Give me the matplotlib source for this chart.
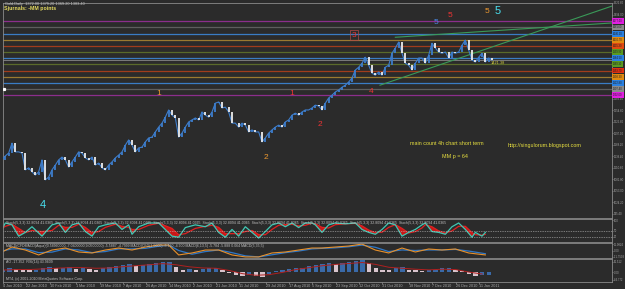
import matplotlib
matplotlib.use('Agg')
import matplotlib.pyplot as plt
import matplotlib.transforms as mtransforms
import numpy as np

plt.rcParams['font.family'] = ['Liberation Sans', 'DejaVu Sans']

# ---- Gold daily closes (one value per ~2 bars) ----
closes = [1130, 1140, 1147, 1172, 1150, 1150, 1147, 1105, 1110, 1100,
          1092, 1100, 1130, 1080, 1087, 1105, 1117, 1130, 1137, 1130,
          1112, 1125, 1137, 1150, 1147, 1135, 1130, 1137, 1117, 1122,
          1110, 1105, 1117, 1125, 1135, 1142, 1150, 1167, 1180, 1167,
          1150, 1160, 1162, 1175, 1185, 1187, 1200, 1212, 1222, 1237,
          1255, 1242, 1235, 1187, 1197, 1212, 1225, 1230, 1235, 1230,
          1250, 1242, 1237, 1250, 1272, 1275, 1260, 1262, 1250, 1222,
          1222, 1212, 1222, 1217, 1200, 1205, 1200, 1200, 1175, 1185,
          1197, 1205, 1212, 1217, 1212, 1225, 1230, 1242, 1247, 1242,
          1250, 1255, 1255, 1260, 1267, 1265, 1255, 1272, 1285, 1292,
          1300, 1305, 1312, 1317, 1325, 1335, 1355, 1362, 1372, 1387,
          1367, 1347, 1342, 1350, 1342, 1362, 1367, 1397, 1410, 1425,
          1397, 1372, 1367, 1355, 1372, 1385, 1385, 1372, 1392, 1422,
          1410, 1400, 1397, 1400, 1385, 1400, 1397, 1400, 1417, 1430,
          1405, 1380, 1375, 1387, 1397, 1375, 1385, 1380]

# Murrey math levels (MM p = 64), top to bottom
mm_levels = [1477.0, 1461.6, 1446.2, 1430.7, 1415.3, 1399.9, 1384.5,
             1369.1, 1353.7, 1338.3, 1322.8, 1307.4, 1292.0]

price_ticks = [1522.80, 1494.00, 1283.40, 1254.60, 1225.80, 1197.00,
               1168.20, 1139.40, 1110.60, 1081.80, 1053.00, 1024.20, 995.40]

date_pos = [0, 7, 14, 22, 29, 36, 43, 50, 57, 64, 71, 79, 86, 93, 100,
            107, 114, 122, 129, 136, 143]
date_labels = ['4 Jan 2010', '22 Jan 2010', '10 Feb 2010', '1 Mar 2010',
               '19 Mar 2010', '7 Apr 2010', '26 Apr 2010', '14 May 2010',
               '2 Jun 2010', '21 Jun 2010', '11 Jul 2010', '29 Jul 2010',
               '17 Aug 2010', '5 Sep 2010', '23 Sep 2010', '12 Oct 2010',
               '31 Oct 2010', '18 Nov 2010', '7 Dec 2010', '26 Dec 2010',
               '11 Jan 2011']

# trend lines (x in bar units, price)
trend_upper = ([118, 183.3], [1437, 1473])
trend_lower = ([113.4, 183.3], [1317, 1516])

# wave counts: (label, x, price, colour key, size key)
waves = [('1', 47.1, 1297, 'orange', 's'), ('1', 87, 1297, 'red', 's'),
         ('2', 95.4, 1219, 'red', 's'), ('2', 79.2, 1137, 'orange', 's'),
         ('3', 105.6, 1442, 'red', 'box'), ('4', 110.7, 1302, 'red', 's'),
         ('4', 12.3, 1017, 'cyan', 'l'), ('5', 130.2, 1474, 'blue', 's'),
         ('5', 134.4, 1492, 'red', 's'), ('5', 145.5, 1502, 'orange', 's'),
         ('5', 148.8, 1504, 'cyan', 'l')]

# ---- stochastic panel ----
stoch_x = [0, 1, 3, 5, 7, 9, 12, 15, 17, 19, 21, 23, 25, 27, 29, 31, 34, 36,
           38, 39, 41, 44, 47, 51, 53, 55, 58, 61, 63, 65, 67, 69, 71, 73,
           75, 77, 79, 81, 83, 85, 87, 89, 91, 93, 94, 96, 98, 100, 103, 106,
           108, 110, 112, 114, 116, 118, 120, 122, 124, 126, 127, 129, 131,
           133, 135, 137, 139, 141, 142, 144, 145]
stoch_k = [55, 86, 77, 23, 41, 68, 23, 77, 86, 41, 77, 86, 45, 23, 68, 77,
           86, 55, 77, 32, 68, 86, 86, 23, 18, 64, 77, 68, 86, 41, 18, 55,
           23, 68, 41, 14, 45, 77, 86, 68, 86, 64, 86, 86, 77, 41, 77, 86,
           82, 86, 55, 41, 32, 55, 86, 77, 23, 41, 55, 77, 86, 45, 41, 32,
           68, 86, 55, 18, 41, 23, 41]
stoch_d = [60, 70, 80, 60, 40, 50, 45, 50, 75, 65, 65, 80, 65, 40, 45, 65,
           80, 70, 65, 55, 55, 75, 85, 60, 30, 35, 60, 70, 75, 65, 35, 35,
           35, 45, 50, 30, 30, 55, 75, 78, 80, 72, 75, 85, 82, 65, 62, 78,
           82, 84, 72, 52, 40, 42, 65, 78, 60, 38, 45, 62, 78, 68, 48, 38,
           48, 70, 70, 40, 30, 28, 32]

# ---- MACD panel ----
macd_x = [0, 3, 7, 11, 15, 19, 23, 27, 31, 35, 39, 43, 47, 50, 53, 57, 61,
          65, 69, 73, 77, 81, 85, 89, 93, 96, 100, 104, 108, 112, 116, 120,
          124, 128, 132, 136, 140, 145]
macd_fast = [-2.8, 6.5, 0.9, -8.3, 0.9, 4.6, -2.8, -4.6, 0.9, 4.6, 0.9, 6.5,
             10.2, 10.2, -8.3, -4.6, 0.9, 0.9, -8.3, -12, -12, -4.6, -2.8,
             0.9, 4.6, 4.6, 6.5, 8.3, 12, 0.9, -4.6, 4.6, -2.8, 2.8, 0.9,
             2.8, -4.6, -8.3]
macd_slow = [-1, 3, 3, -4, -3, 3, 1, -4, -2, 3, 3, 4, 8, 10, 0, -7, -2, 1,
             -4, -10, -12, -8, -4, -1, 3, 4, 5, 7, 10, 6, -2, 1, 0, 1, 1, 2,
             -1, -6]

# ---- oscillator histogram panel ----
hist_vals = [12, 30, 24, 18, 12, 18, 30, 36, 30, 30, 36, 24, 30, 24, 18, 30,
             36, 42, 48, 54, 42, 48, 54, 60, 66, 66, 36, 18, 24, 18, 24, 30,
             30, 12, -6, -18, -24, -18, -24, -30, -12, 6, 12, 24, 30, 30, 42,
             48, 54, 60, 54, 60, 66, 72, 78, 60, 30, 18, 12, 30, 36, 18, 12,
             6, 12, 18, 30, 30, 18, 6, -12, -24, -18, -18]
signal_vals = [15, 18, 18, 22, 26, 30, 30, 26, 28, 36, 42, 48, 55, 48, 35,
               28, 26, 12, -8, -18, -14, 0, 18, 30, 42, 50, 56, 62, 50, 32,
               26, 20, 16, 20, 18, 2, -10]

BG = '#2b2b2b'
FRAME = '#8a8a8a'
TXT = '#a8a8a8'
mm_line_cols = ['#8c2e8c', '#5e5e5e', '#3a7cc4', '#9a7a30', '#a03c1c',
                '#5a6a2a', '#3a7cc4', '#5a6a2a', '#a03c1c', '#9a7a30',
                '#3a7cc4', '#5e5e5e', '#8c2e8c']
mm_box_cols = ['#e020e0', '#8a8a8a', '#2a80e0', '#e08a10', '#e04a10',
               '#5a9a20', '#2a80e0', '#5a9a20', '#e03010', '#e08a10',
               '#2a80e0', '#8a8a8a', '#e020e0']
wave_cols = {'orange': '#f09a30', 'red': '#f03434', 'cyan': '#48e0f0',
             'blue': '#4a8ae8'}

fig = plt.figure(figsize=(6.25, 2.89), dpi=100, facecolor=BG)
W, H = 625.0, 289.0
def add_panel(top, bottom):
    return fig.add_axes([3 / W, 1 - bottom / H, 609 / W, (bottom - top) / H],
                        facecolor=BG)

ax = add_panel(3, 218)
ax1 = add_panel(219, 242)
ax2 = add_panel(243, 258)
ax3 = add_panel(259, 282)

for a in (ax, ax1, ax2, ax3):
    a.set_xlim(0.3, 183.0)
    for s in a.spines.values():
        s.set_color(FRAME)
        s.set_linewidth(0.6)
    a.yaxis.tick_right()
    a.tick_params(axis='y', labelsize=2.0, colors=TXT, length=0.8, width=0.4,
                  pad=0.3)
    a.tick_params(axis='x', bottom=False, labelbottom=False)

# ---- main price panel ----
ax.set_ylim(984.5, 1522)
ax.set_yticks(price_ticks)
ax.set_yticklabels(['%.2f' % v for v in price_ticks])

yb = mtransforms.blended_transform_factory(ax.transAxes, ax.transData)
for lvl, lc, bc in zip(mm_levels, mm_line_cols, mm_box_cols):
    ax.axhline(lvl, color=lc, lw=0.9, zorder=1)
    ax.text(1.002, lvl, '%.2f' % lvl, transform=yb, fontsize=1.9,
            color='#202020', va='center', ha='left', clip_on=False,
            bbox=dict(boxstyle='square,pad=0.35', fc=bc, ec='none'))
ax.axhline(closes[-1], color='#9a9a9a', lw=0.5, zorder=1)

ax.plot(trend_upper[0], trend_upper[1], color='#3a9a58', lw=0.8, zorder=2)
ax.plot(trend_lower[0], trend_lower[1], color='#3a9a58', lw=0.8, zorder=2)

c = np.array(closes, dtype=float)
o = np.r_[c[0] + 4, c[:-1]]
xs = np.arange(len(c))
up = c >= o
ax.plot(xs, c, color='#3d7dcc', lw=0.8, zorder=3)
ax.vlines(xs[up], o[up], c[up], color='#3d7dcc', lw=1.3, zorder=3)
ax.vlines(xs[~up], o[~up], c[~up], color='#ececec', lw=1.3, zorder=3)

for lab, wx, wy, ck, sk in waves:
    kw = dict(color=wave_cols[ck], ha='center', va='center', zorder=4)
    if sk == 'l':
        ax.text(wx, wy, lab, fontsize=8, **kw)
    elif sk == 'box':
        ax.text(wx, wy, lab, fontsize=6, bbox=dict(boxstyle='square,pad=0.2',
                fc='none', ec='#b04848', lw=0.5), **kw)
    else:
        ax.text(wx, wy, lab, fontsize=6, **kw)

ax.text(133.3, 1172, 'main count 4h chart short term', fontsize=3.9,
        color='#e8e040', ha='center', va='center')
ax.text(135.9, 1139, 'MM p = 64', fontsize=3.9, color='#e8e040',
        ha='center', va='center')
ax.text(162.7, 1167, 'http://singulorum.blogspot.com', fontsize=3.9,
        color='#e8e040', ha='center', va='center')
ax.text(146.5, 1372, '1421.38', fontsize=2.8, color='#d8d040', ha='left',
        va='center')
ax.plot([0.6], [1307.4], marker='s', ms=1.3, color='white', zorder=5)

fig.text(5 / W, 1 - 2.5 / H, 'Gold,Daily  1372.00 1379.20 1369.20 1383.40',
         fontsize=2.8, color='#c8c8c8', va='top')
fig.text(4 / W, 1 - 6 / H, 'Sjurnals: -MM points', fontsize=3.8,
         color='#e6dc60', va='top', weight='bold')

# ---- stochastic ----
ax1.set_ylim(-5, 105)
k = np.array(stoch_k, dtype=float)
d = np.array(stoch_d, dtype=float)
ax1.fill_between(stoch_x, k, d, where=d > k, interpolate=True,
                 color='#c81818', lw=0)
ax1.plot(stoch_x, d, color='#e02020', lw=0.9)
ax1.plot(stoch_x, k, color='#40c8b4', lw=0.9)
for lv in (50, 20):
    ax1.axhline(lv, color='#c8c8c8', lw=0.5, ls=(0, (1, 1.5)))
ax1.set_yticks([100, 50, 20])
ax1.set_yticklabels(['100', '50', '20'])
ax1.text(0.005, 0.93, 'Stoch(5,3,3) 32.8094 41.0365  ' * 9, transform=ax1.transAxes,
         fontsize=2.5, color='#c0c0c0', va='top', clip_on=True)

# ---- MACD ----
ax2.set_ylim(-14, 14)
ax2.plot(macd_x, macd_slow, color='#2f78c8', lw=0.9)
ax2.plot(macd_x, macd_fast, color='#e8902a', lw=0.8)
ax2.set_yticks([11.9824, 0, -11.7503])
ax2.set_yticklabels(['11.9824', '0.00', '-11.7503'])
ax2.text(0.005, 0.95, 'MACD(CFDMACD(Aqua)(0.58960000,-7.0400000,9.0500000) '
         '-5.5887 -4.7999 MACD(CFD(1.0000) -5.190 -4.900 MACD(6,13,5) '
         '-5.784 -5.888 0.064 MACD(5,35,5)', transform=ax2.transAxes,
         fontsize=2.5, color='#c0c0c0', va='top', clip_on=True)

# ---- histogram ----
ax3.set_ylim(-60, 84)
hx = np.arange(len(hist_vals)) * 2
hv = np.array(hist_vals, dtype=float)
rising = np.r_[True, hv[1:] >= hv[:-1]]
ax3.bar(hx, hv, width=1.3, color=np.where(rising, '#3a6aa8', '#d8c4cc'),
        lw=0)
ax3.plot(np.arange(len(signal_vals)) * 4, signal_vals, color='#b02020',
         lw=0.7)
ax3.set_yticks([66.512, 0, -44.772])
ax3.set_yticklabels(['66.512', '0.00', '-44.772'])
ax3.text(0.005, 0.95, 'AO -17.352  RSI(14) 43.9609', transform=ax3.transAxes,
         fontsize=2.6, color='#c0c0c0', va='top')
ax3.text(0.005, 0.05, 'MT4, (c) 2001-2010 MetaQuotes Software Corp.',
         transform=ax3.transAxes, fontsize=2.6, color='#c0c0c0', va='bottom')
ax3.tick_params(axis='x', bottom=True, labelbottom=True, labelsize=2.7,
                colors=TXT, length=1.2, width=0.4, pad=0.4)
ax3.set_xticks(date_pos)
ax3.set_xticklabels(date_labels, ha='left')

fig.savefig('out.png', dpi=100, facecolor=BG)
